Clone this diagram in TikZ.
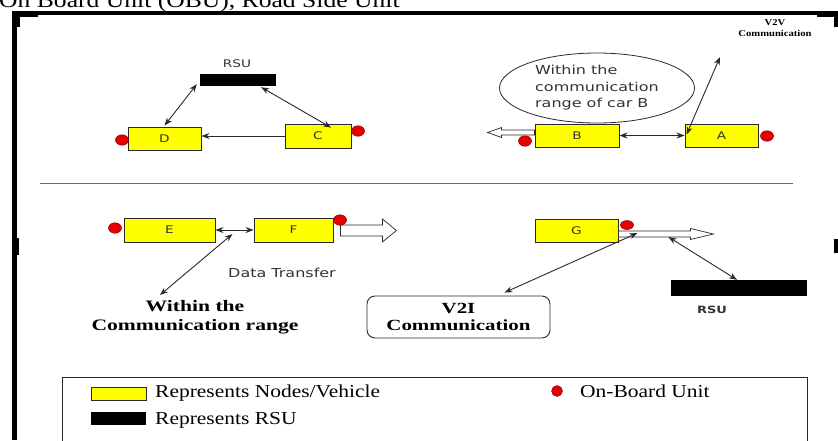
\documentclass[tikz,border=0pt]{standalone}
\usepackage{fontspec}
\setmainfont[FakeStretch=1.18]{Liberation Serif}
\newfontfamily\widebf[FakeStretch=1.35]{Liberation Serif}
\newfontfamily\sansf[FakeStretch=1.3]{DejaVu Sans}
\usetikzlibrary{arrows.meta,shapes.geometric}
\definecolor{veh}{HTML}{FFFF00}
\definecolor{obucol}{HTML}{E60000}
\definecolor{ln}{HTML}{2A2A2A}
\definecolor{txt}{HTML}{333333}
\begin{document}
\begin{tikzpicture}[x=1pt,y=-1pt,
  vehicle/.style={draw=ln, line width=0.9pt, fill=veh, minimum height=23pt, inner sep=0pt,
    text=txt, font=\sansf\fontsize{10.5}{12}\selectfont},
  obu/.style={ellipse, draw=red!55!black, line width=0.5pt, fill=obucol, minimum width=13pt, minimum height=10.5pt, inner sep=0pt},
  rsubar/.style={fill=black, inner sep=0pt},
  link/.style={draw=ln, line width=0.9pt, {Stealth[length=8pt,width=6pt]}-{Stealth[length=8pt,width=6pt]}},
  oneway/.style={draw=ln, line width=0.9pt, -{Stealth[length=8pt,width=6pt]}},
  hollow/.style={draw=ln, line width=0.7pt, fill=white, line join=miter},
  sanslbl/.style={inner sep=0pt, text=txt, font=\sansf\fontsize{10.5}{13}\selectfont},
  boldlbl/.style={inner sep=0pt, align=center, text=black, font=\widebf\bfseries\fontsize{16}{19}\selectfont},
  legtxt/.style={inner sep=0pt, anchor=base west, font=\fontsize{18.2}{20}\selectfont}
]
\useasboundingbox (0,0) rectangle (838,440);
\clip (0,0) rectangle (838,440);
\fill[white] (0,0) rectangle (838,440);

% cropped caption at the top
\node[inner sep=0pt, anchor=base west, font=\fontsize{21.7}{24}\selectfont] (caption) at (-1,7) {On Board Unit (OBU), Road Side Unit};

% frame
\fill (12,11) rectangle (838,14.5);
\fill (12,11) rectangle (16.5,440);
\fill (12,11) rectangle (38,17);
\fill (12,11) rectangle (20,27);
\fill (817,12) rectangle (838,17);
\fill (834,12) rectangle (838,27);
\fill (12,238) rectangle (18.5,255);
\fill (834,239) rectangle (838,253);

% ---------- top left: RSU, D, C ----------
\node[rsubar, minimum width=76pt, minimum height=12pt] (rsuA) at (238,80) {};
\node[sanslbl] (rsuAl) at (237,64) {RSU};
\node[vehicle, minimum width=73pt] (D) at (164.5,138.5) {D};
\node[vehicle, minimum width=66pt, minimum height=24pt] (C) at (318,136) {C};
\node[obu] (obuD) at (122,140) {};
\node[obu] (obuC) at (358,131) {};
\draw[link] ([xshift=-3pt,yshift=2pt]rsuA.south west) -- ([yshift=1pt]D.north);
\draw[link] ([xshift=-15pt,yshift=-1pt]rsuA.south east) -- ([xshift=13pt,yshift=-4pt]C.north);
\draw[oneway] (C.west) -- (C.west -| D.east);

% ---------- top right: B, A ----------
\node[ellipse, draw=ln, line width=0.8pt, minimum width=195pt, minimum height=70pt, inner sep=0pt,
  align=left, text=txt, font=\sansf\fontsize{12.3}{16.5}\selectfont] (range) at (597,88)
  {Within the\\communication\\range of car B};
\node[vehicle, minimum width=84pt] (B) at (577,135.5) {B};
\node[vehicle, minimum width=73pt] (A) at (721.5,135.5) {A};
\draw[hollow] ([yshift=5.5pt]B.west) -- ++(-33,0) -- ++(0,-2.5) -- ++(-14,5) -- ++(14,5) -- ++(0,-2.5) -- ++(33,0) -- cycle;
\node[obu] (obuB) at (525,141) {};
\node[obu] (obuA) at (767,136) {};
\draw[link] (B.east) -- (A.west);
\node[inner sep=0pt, align=center, font=\bfseries\fontsize{9}{11}\selectfont] (v2v) at (775,28) {V2V\\Communication};
\coordinate (v2vEnd) at (720,57);
\draw[link] ([xshift=2pt,yshift=-11pt]A.north west) -- (v2vEnd);

% separator
\draw[draw=black!60, line width=1pt] (40,183) -- (793,183);

% ---------- bottom left: E, F ----------
\node[vehicle, minimum width=91pt, minimum height=24pt] (E) at (169.5,230) {E};
\node[vehicle, minimum width=79pt, minimum height=24pt] (F) at (293.5,230) {F};
\draw[hollow] ([xshift=7pt,yshift=5pt]F.east) -- ++(42,0) -- ++(0,-6) -- ++(14,11.5) -- ++(-14,11.5) -- ++(0,-6) -- ++(-42,0) -- cycle;
\node[obu] (obuE) at (115,228) {};
\node[obu] (obuF) at (340,220) {};
\draw[link] (E.east) -- (F.west);
\node[sanslbl, font=\sansf\fontsize{12.3}{14}\selectfont] (dt) at (282,273) {Data Transfer};
\node[boldlbl] (rangeLbl) at (195,317) {Within the\\Communication range};
\coordinate (rangeEnd) at (160,295);
\draw[link] ([xshift=17pt,yshift=-4pt]E.east) -- (rangeEnd);

% ---------- bottom right: G ----------
\node[vehicle, minimum width=83pt] (G) at (576.5,230.5) {G};
\draw[hollow] ([yshift=-0.5pt]G.east) -- ++(72,0) -- ++(0,-2.5) -- ++(23,5.5) -- ++(-23,5.5) -- ++(0,-2.5) -- ++(-72,0) -- cycle;
\node[obu, minimum height=9pt] (obuG) at (627,225) {};
\node[draw=ln, line width=0.9pt, rounded corners=8pt, minimum width=183pt, minimum height=42pt, inner sep=0pt,
  align=center, font=\widebf\bfseries\fontsize{15.5}{17}\selectfont] (v2i) at (458.5,317) {V2I\\Communication};
\node[rsubar, minimum width=136pt, minimum height=16pt] (rsuB) at (739,288) {};
\node[sanslbl, font=\sansf\bfseries\fontsize{10}{13}\selectfont] (rsuBl) at (712,310) {RSU};
\draw[link] ([xshift=19pt,yshift=-2.5pt]G.east) -- ([xshift=46pt,yshift=3pt]v2i.north);
\draw[link] ([xshift=50pt,yshift=-6.5pt]G.east) -- ([xshift=-2pt]rsuB.north);

% ---------- legend ----------
\draw[ln, line width=1pt] (62,377) rectangle (807,450);
\node[draw=ln, line width=0.9pt, fill=veh, minimum width=55pt, minimum height=13pt, inner sep=0pt] (legV) at (118.5,393.5) {};
\node[rsubar, minimum width=55pt, minimum height=13pt] (legR) at (118.5,418.5) {};
\node[legtxt] (legVt) at (155,397) {Represents Nodes/Vehicle};
\node[legtxt] (legRt) at (155,424) {Represents RSU};
\node[circle, fill=obucol, draw=red!55!black, minimum size=11pt, inner sep=0pt] (legO) at (557,391) {};
\node[legtxt] (legOt) at (580,397) {On-Board Unit};
\end{tikzpicture}
\end{document}
